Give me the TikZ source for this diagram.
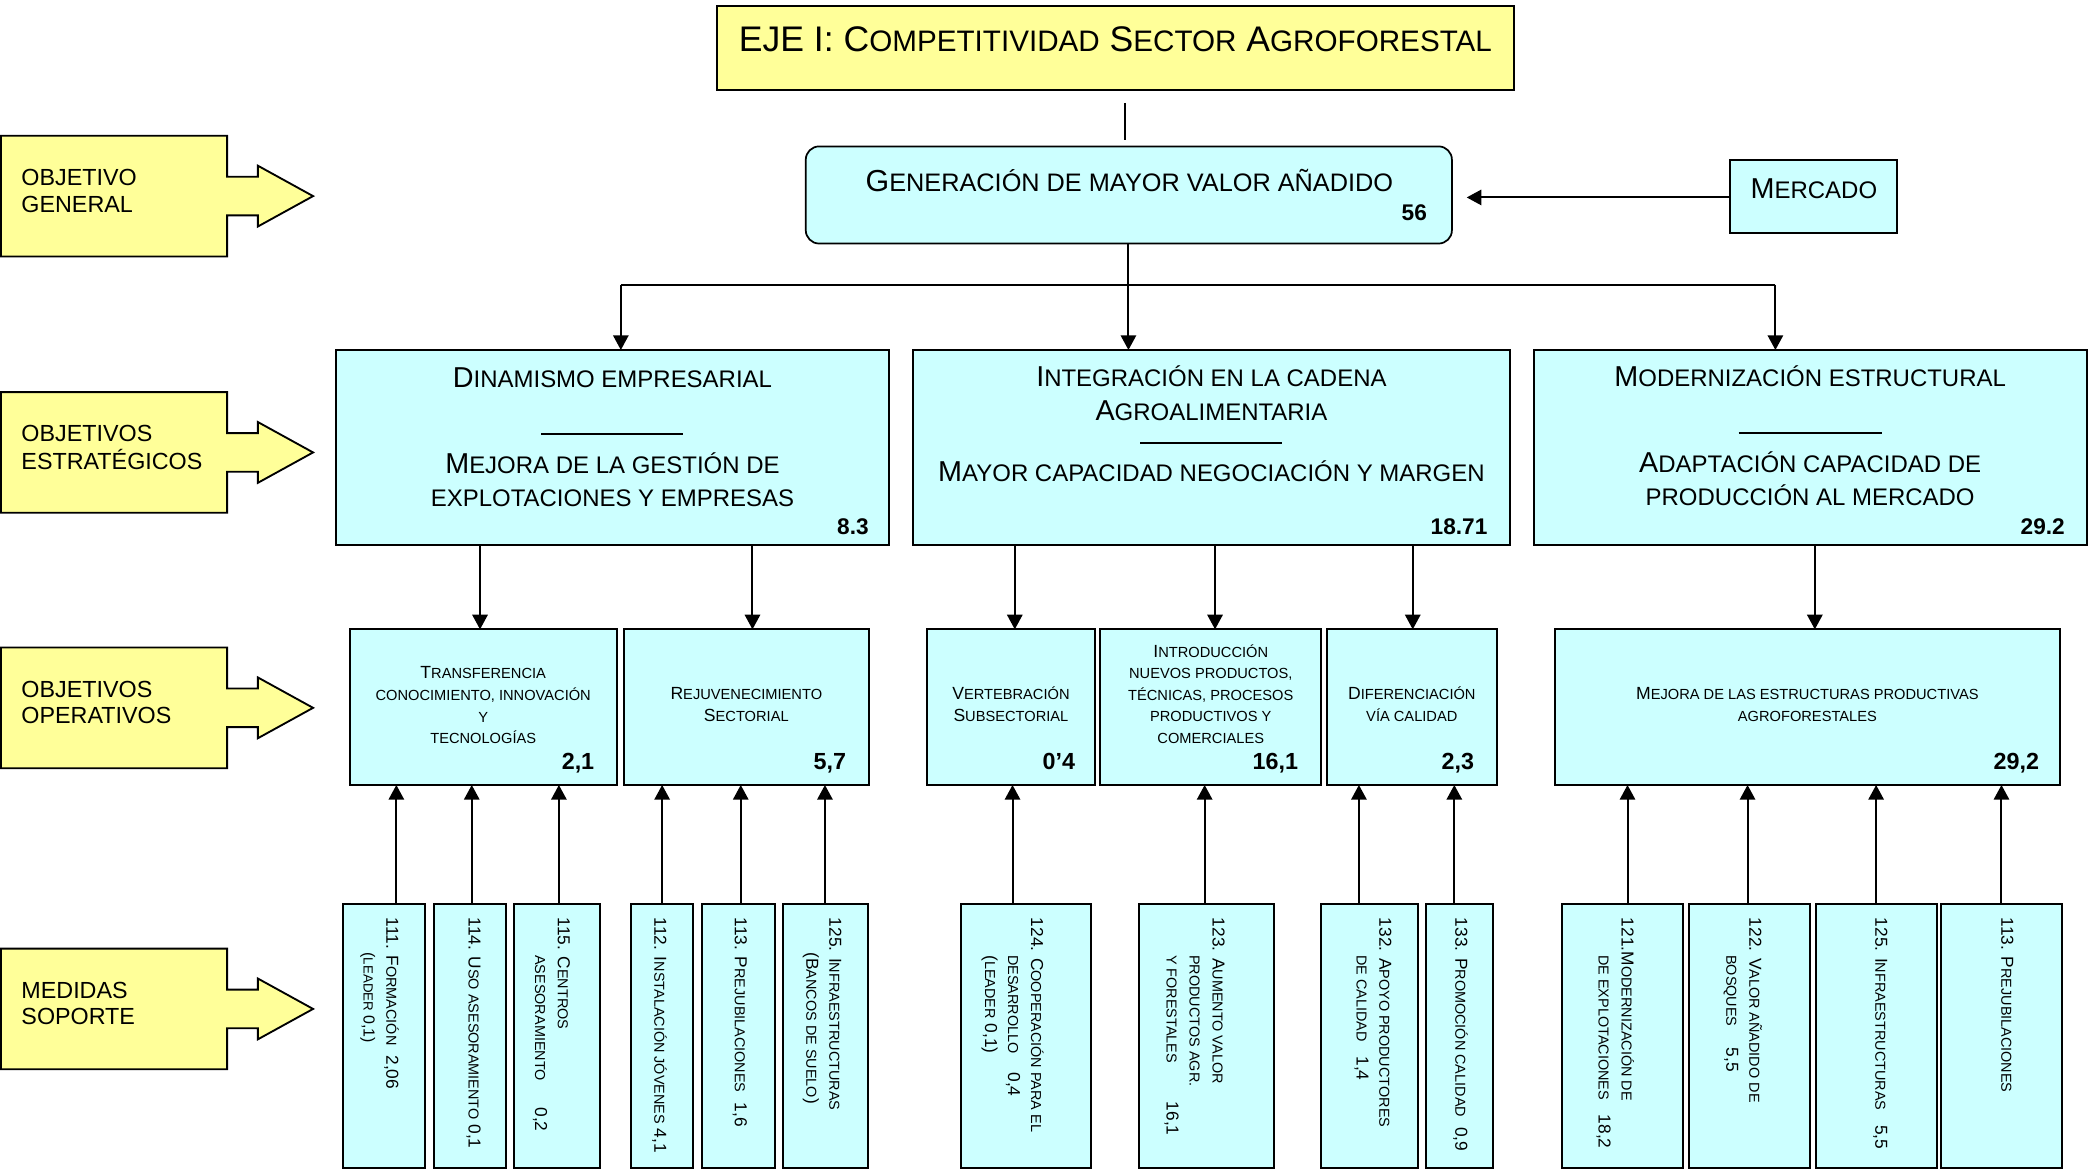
\documentclass[tikz,border=0pt]{standalone}
\usepackage{fontspec}
\setmainfont{Liberation Sans}
\usetikzlibrary{arrows.meta}
\definecolor{cy}{HTML}{CCFFFF}
\definecolor{ye}{HTML}{FFFF99}
\makeatletter
\newcommand\sm[1]{{\@tempdima=\f@size pt\relax\fontsize{0.833\@tempdima}{\f@baselineskip}\selectfont #1}}
\makeatother
\newcommand\ctab[1]{\begin{tabular}[t]{@{}c@{}}#1\end{tabular}}
\newcommand\ltab[1]{\begin{tabular}[t]{@{}l@{}}#1\end{tabular}}
\newcommand\ind{\hspace*{28pt}}
\newcommand\ftitle{\fontsize{26.7}{30}\selectfont}
\newcommand\fgen{\fontsize{22.8}{26}\selectfont}
\newcommand\fstr{\fontsize{21.6}{25.3}\selectfont}
\newcommand\fop{\fontsize{13.2}{16.2}\selectfont}
\newcommand\fmed{\fontsize{13}{17.2}\selectfont}
\newcommand\fnum{\bfseries\fontsize{17}{20}\selectfont}
\newcommand\fonum{\bfseries\fontsize{17.5}{20}\selectfont}
\newcommand\flab{\fontsize{17.5}{20.1}\selectfont}
\tikzset{
  cbox/.style={draw=black, fill=cy, line width=1.5pt, inner sep=0pt, outer sep=0pt},
  conn/.style={line width=1.5pt, -{Triangle[width=11.5pt,length=11pt]}},
  plain/.style={line width=1.5pt},
  labshape/.style={draw=black, fill=ye, line width=1.4pt, line join=miter},
  med/.style={font=\fmed, rotate=-90, anchor=base west},
}
% box: name, x1, y1, x2, y2
\newcommand\bx[5]{\node[cbox, anchor=north west, minimum width={#4-#2}, minimum height={#5-#3}] (#1) at (#2,#3) {};}
% yellow label: top, name, text
\newcommand\lab[3]{%
  \draw[labshape] (0.7,#1) -- (170.5,#1) -- (170.5,#1+30.8) -- (193.6,#1+30.8) -- (193.6,#1+22.5)
    -- (235,#1+45.3) -- (193.6,#1+68.1) -- (193.6,#1+59.8) -- (170.5,#1+59.8) -- (170.5,#1+90.6)
    -- (0.7,#1+90.6) -- cycle;
  \node[anchor=base west, font=\flab] (#2) at (16.1,#1+37.2) {\ltab{#3}};}
\begin{document}
\begin{tikzpicture}[x=1pt,y=-1pt, every node/.style={inner sep=0pt,outer sep=0pt}]
\useasboundingbox (0,0) rectangle (1568,882.7);
\fill[white] (0,0) rectangle (1568,882.7);

% ---- left labels
\lab{101.9}{lgen}{OBJETIVO\\GENERAL}
\lab{294.3}{lest}{OBJETIVOS\\ESTRATÉGICOS}
\lab{486}{lope}{OBJETIVOS\\OPERATIVOS}
\lab{712}{lmed}{MEDIDAS\\SOPORTE}

% ---- title
\node[draw=black, fill=ye, line width=1.5pt, anchor=north west, minimum width=598.7, minimum height=62.8] (title) at (537.9,4.8) {};
\node[anchor=base, font=\ftitle] (titletx) at (837.2,38.9) {EJE I: C\sm{OMPETITIVIDAD} S\sm{ECTOR} A\sm{GROFORESTAL}};

% ---- general objective
\node[cbox, line width=1.3pt, rounded corners=10pt, anchor=north west, minimum width=485, minimum height=72.9] (gen) at (604.8,109.9) {};
\node[anchor=base, font=\fgen] (gentx) at (847.7,143.4) {G\sm{ENERACIÓN DE MAYOR VALOR AÑADIDO}};
\node[anchor=base east, font=\fnum] (gennum) at (1071,165.7) {56};

\bx{merc}{1298.4}{119.8}{1424.1}{174.8}
\node[anchor=base, font=\fstr] (merctx) at (1361.5,149) {M\sm{ERCADO}};

% ---- strategic objectives
\bx{s1}{252.4}{262.7}{667}{408.8}
\bx{s2}{685.3}{262.7}{1133.4}{408.8}
\bx{s3}{1151.1}{262.7}{1566.4}{408.8}

\node[anchor=base, font=\fstr] (s1a) at (459.7,290.9) {D\sm{INAMISMO EMPRESARIAL}};
\draw[line width=1.1pt] (406.2,325.7) -- (512.8,325.7);
\node[anchor=base, font=\fstr] (s1b) at (459.7,355.2) {\ctab{M\sm{EJORA DE LA GESTIÓN DE}\\\sm{EXPLOTACIONES Y EMPRESAS}}};
\node[anchor=base east, font=\fnum] (s1n) at (652,401.3) {8.3};

\node[anchor=base, font=\fstr] (s2a) at (909.3,290.3) {\ctab{I\sm{NTEGRACIÓN EN LA CADENA}\\A\sm{GROALIMENTARIA}}};
\draw[line width=1.1pt] (856,332.4) -- (962.6,332.4);
\node[anchor=base, font=\fstr] (s2b) at (909.3,361.4) {M\sm{AYOR CAPACIDAD NEGOCIACIÓN Y MARGEN}};
\node[anchor=base east, font=\fnum] (s2n) at (1116.4,401.3) {18.71};

\node[anchor=base, font=\fstr] (s3a) at (1358.7,290.3) {M\sm{ODERNIZACIÓN ESTRUCTURAL}};
\draw[line width=1.1pt] (1305,324.9) -- (1412.6,324.9);
\node[anchor=base, font=\fstr] (s3b) at (1358.7,354.3) {\ctab{A\sm{DAPTACIÓN CAPACIDAD DE}\\\sm{PRODUCCIÓN AL MERCADO}}};
\node[anchor=base east, font=\fnum] (s3n) at (1549.8,401.3) {29.2};

% ---- operational objectives
\bx{o1}{262.4}{472.4}{463}{589.2}
\bx{o2}{468.3}{472.4}{652}{589.2}
\bx{o3}{695.6}{472.4}{822}{589.2}
\bx{o4}{826}{472.4}{991.5}{589.2}
\bx{o5}{995.8}{472.4}{1123.6}{589.2}
\bx{o6}{1167}{472.4}{1546.2}{589.2}

\node[anchor=base, font=\fop] (o1t) at (362.7,509.6) {\ctab{T\sm{RANSFERENCIA}\\\sm{CONOCIMIENTO, INNOVACIÓN}\\\sm{Y}\\\sm{TECNOLOGÍAS}}};
\node[anchor=base, font=\fop] (o2t) at (560.2,525.4) {\ctab{R\sm{EJUVENECIMIENTO}\\S\sm{ECTORIAL}}};
\node[anchor=base, font=\fop] (o3t) at (758.8,525.4) {\ctab{V\sm{ERTEBRACIÓN}\\S\sm{UBSECTORIAL}}};
\node[anchor=base, font=\fop] (o4t) at (908.8,493.3) {\ctab{I\sm{NTRODUCCIÓN}\\\sm{NUEVOS PRODUCTOS,}\\\sm{TÉCNICAS, PROCESOS}\\\sm{PRODUCTIVOS Y}\\\sm{COMERCIALES}}};
\node[anchor=base, font=\fop] (o5t) at (1059.7,525.4) {\ctab{D\sm{IFERENCIACIÓN}\\\sm{VÍA CALIDAD}}};
\node[anchor=base, font=\fop] (o6t) at (1356.6,525.4) {\ctab{M\sm{EJORA DE LAS ESTRUCTURAS PRODUCTIVAS}\\\sm{AGROFORESTALES}}};

\node[anchor=base east, font=\fonum] (o1n) at (446,577.4) {2,1};
\node[anchor=base east, font=\fonum] (o2n) at (635,577.4) {5,7};
\node[anchor=base east, font=\fonum] (o3n) at (807,577.4) {0’4};
\node[anchor=base east, font=\fonum] (o4n) at (974.3,577.4) {16,1};
\node[anchor=base east, font=\fonum] (o5n) at (1106.4,577.4) {2,3};
\node[anchor=base east, font=\fonum] (o6n) at (1530.5,577.4) {29,2};

% ---- support measures
\bx{m111}{257.4}{678.5}{319}{876.7}
\bx{m114}{325.7}{678.5}{380.1}{876.7}
\bx{m115}{386}{678.5}{450.1}{876.7}
\bx{m112}{473.9}{678.5}{520.3}{876.7}
\bx{m113}{526.8}{678.5}{581.4}{876.7}
\bx{m125}{587.6}{678.5}{651.7}{876.7}
\bx{m124}{721.1}{678.5}{819.2}{876.7}
\bx{m123}{854.8}{678.5}{955.9}{876.7}
\bx{m132}{991.6}{678.5}{1064}{876.7}
\bx{m133}{1070.1}{678.5}{1120.8}{876.7}
\bx{m121}{1172.2}{678.5}{1262.9}{876.7}
\bx{m122}{1267.9}{678.5}{1358.3}{876.7}
\bx{m125b}{1363}{678.5}{1453.7}{876.7}
\bx{m113b}{1457.1}{678.5}{1547.5}{876.7}

\node[med] (t111) at (290.1,689) {\ltab{111. F\sm{ORMACIÓN}\hspace{7.5pt}2,06\\{\fontsize{12}{17.2}\selectfont\hspace*{26pt}(\sm{LEADER} 0,1)}}};
\node[med] (t114) at (351.7,689) {\ltab{114. U\sm{SO ASESORAMIENTO} 0,1}};
\node[med] (t115) at (418.8,689) {\ltab{115. C\sm{ENTROS}\\\ind\sm{ASESORAMIENTO}\hspace{20pt}0,2}};
\node[med] (t112) at (491.2,689) {\ltab{112. I\sm{NSTALACIÓN JÓVENES} 4,1}};
\node[med] (t113) at (551.5,689) {\ltab{113. P\sm{REJUBILACIONES}\hspace{7.5pt}1,6}};
\node[med] (t125) at (622.5,689) {\ltab{125. I\sm{NFRAESTRUCTURAS}\\\hspace*{26pt}(B\sm{ANCOS DE SUELO})}};
\node[med] (t124) at (773.9,689) {\ltab{124. C\sm{OOPERACIÓN PARA EL}\\\ind\sm{DESARROLLO}\hspace{14pt}0,4\\\ind(\sm{LEADER} 0,1)}};
\node[med] (t123) at (910.1,689) {\ltab{123. A\sm{UMENTO VALOR}\\\ind\sm{PRODUCTOS AGR.}\\\ind\sm{Y FORESTALES}\hspace{29pt}16,1}};
\node[med] (t132) at (1035.4,689) {\ltab{132. A\sm{POYO PRODUCTORES}\\\ind\sm{DE CALIDAD}\hspace{11pt}1,4}};
\node[med] (t133) at (1092.4,689) {\ltab{133. P\sm{ROMOCIÓN CALIDAD}\hspace{7.5pt}0,9}};
\node[med] (t121) at (1217.1,689) {\ltab{121.M\sm{ODERNIZACIÓN DE}\\\ind\sm{DE EXPLOTACIONES}\hspace{11pt}18,2}};
\node[med] (t122) at (1313,689) {\ltab{122. V\sm{ALOR AÑADIDO DE}\\\ind\sm{BOSQUES}\hspace{16pt}5,5}};
\node[med] (t125b) at (1407.6,689) {\ltab{125. I\sm{NFRAESTRUCTURAS}\hspace{11pt}5,5}};
\node[med] (t113b) at (1502.2,689) {\ltab{113. P\sm{REJUBILACIONES}}};

% ---- connectors
\coordinate (tl1) at (844.5,77.2);
\coordinate (tl2) at (844.5,105.1);
\draw[plain] (tl1) -- (tl2);
\coordinate (mt) at (1100.9,148.2);
\draw[conn] (merc.west |- mt) -- (mt);
\draw[conn] (847,0 |- gen.south) -- (847,0 |- s2.north);
\coordinate (bl) at (466,213.6);
\coordinate (br) at (1332.6,213.6);
\draw[plain] (bl) -- (br);
\draw[conn] (bl) -- (bl |- s1.north);
\draw[conn] (br) -- (br |- s3.north);

\draw[conn] (360.3,0 |- s1.south) -- (360.3,0 |- o1.north);
\draw[conn] (564.8,0 |- s1.south) -- (564.8,0 |- o2.north);
\draw[conn] (761.7,0 |- s2.south) -- (761.7,0 |- o3.north);
\draw[conn] (912,0 |- s2.south) -- (912,0 |- o4.north);
\draw[conn] (1060.4,0 |- s2.south) -- (1060.4,0 |- o5.north);
\draw[conn] (1362.2,0 |- s3.south) -- (1362.2,0 |- o6.north);

\draw[conn] (297.5,0 |- m111.north) -- (297.5,0 |- o1.south);
\draw[conn] (354.1,0 |- m114.north) -- (354.1,0 |- o1.south);
\draw[conn] (419.5,0 |- m115.north) -- (419.5,0 |- o1.south);
\draw[conn] (497,0 |- m112.north) -- (497,0 |- o2.south);
\draw[conn] (556,0 |- m113.north) -- (556,0 |- o2.south);
\draw[conn] (619.2,0 |- m125.north) -- (619.2,0 |- o2.south);
\draw[conn] (760,0 |- m124.north) -- (760,0 |- o3.south);
\draw[conn] (904.2,0 |- m123.north) -- (904.2,0 |- o4.south);
\draw[conn] (1020,0 |- m132.north) -- (1020,0 |- o5.south);
\draw[conn] (1091.6,0 |- m133.north) -- (1091.6,0 |- o5.south);
\draw[conn] (1221.6,0 |- m121.north) -- (1221.6,0 |- o6.south);
\draw[conn] (1311.7,0 |- m122.north) -- (1311.7,0 |- o6.south);
\draw[conn] (1408.2,0 |- m125b.north) -- (1408.2,0 |- o6.south);
\draw[conn] (1502.3,0 |- m113b.north) -- (1502.3,0 |- o6.south);
\end{tikzpicture}
\end{document}
